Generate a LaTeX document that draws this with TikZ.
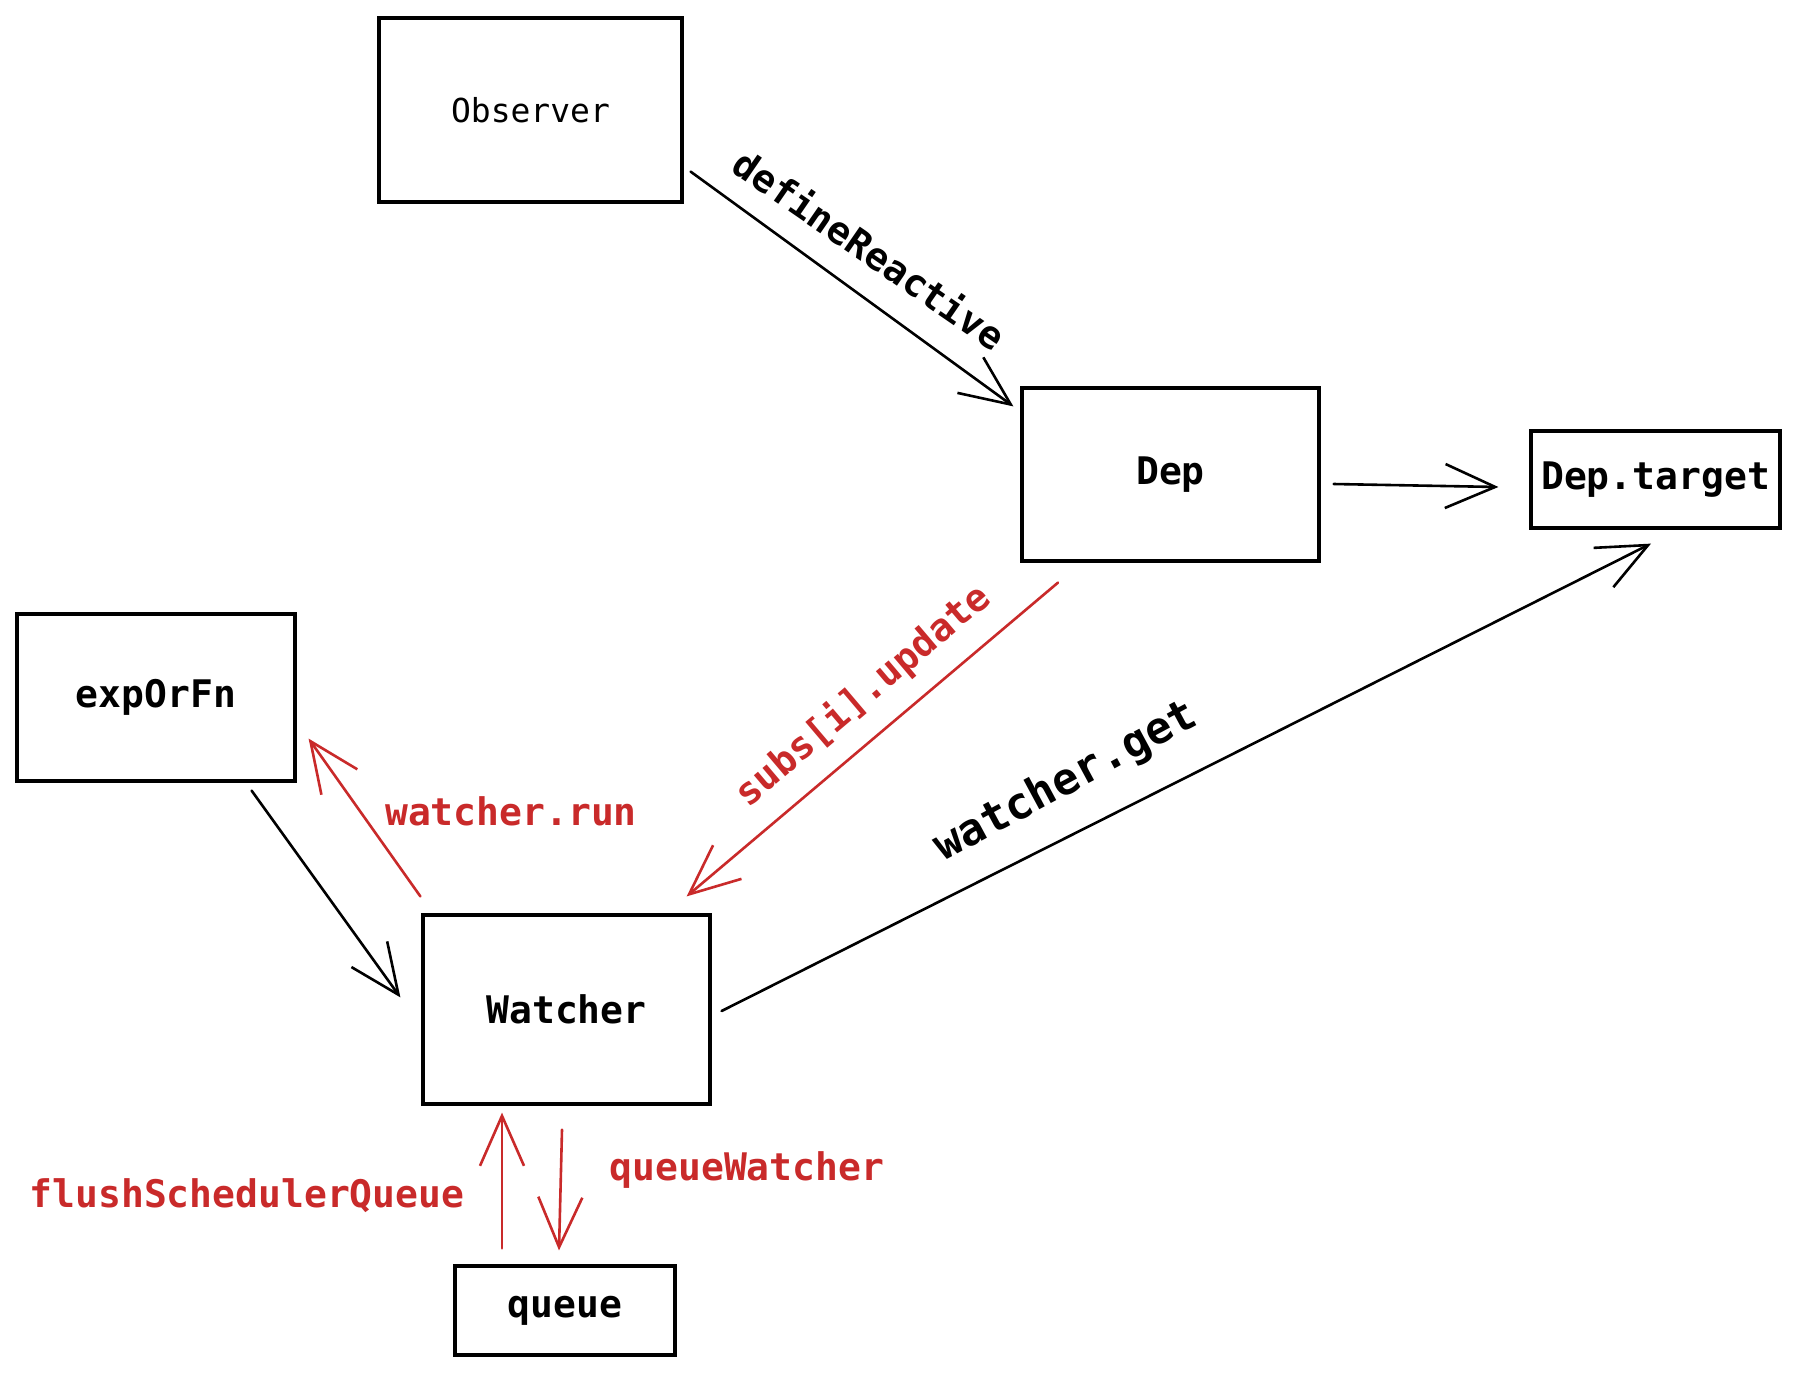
\documentclass[tikz,border=0pt]{standalone}
\usepackage{fontspec}
\newfontfamily\monof{DejaVu Sans Mono}
\usetikzlibrary{arrows.meta}
\definecolor{sred}{RGB}{201,42,42}
\begin{document}
\begin{tikzpicture}[x=1pt,y=-1pt,
  box/.style={draw=black, line width=3.2pt, inner sep=0pt, font=\monof\bfseries\fontsize{38}{40}\selectfont},
  conn/.style={line width=2.6pt, line cap=round, -{Straight Barb[length=50pt,width=44pt]}},
  redconn/.style={conn, draw=sred},
  lbl/.style={inner sep=0pt, font=\monof\bfseries\fontsize{38}{40}\selectfont},
  redlbl/.style={lbl, text=sred}]
\useasboundingbox[fill=white] (0,0) rectangle (1801,1376);

% boxes
\node[box, minimum width=303pt, minimum height=184pt, font=\monof\mdseries\fontsize{33}{35}\selectfont] (obs) at (530.5,110) {Observer};
\node[box, minimum width=297pt, minimum height=173pt] (dep) at (1170.5,474.5) {\raisebox{-3pt}{Dep}};
\node[box, minimum width=249pt, minimum height=97pt] (tgt) at (1655.5,479.5) {\raisebox{-4pt}{Dep.target}};
\node[box, minimum width=278pt, minimum height=167pt] (exp) at (156,697.5) {\raisebox{-5pt}{expOrFn}};
\node[box, minimum width=287pt, minimum height=189pt] (wat) at (566.5,1009.5) {Watcher};
\node[box, minimum width=220pt, minimum height=89pt] (que) at (565,1310.5) {\raisebox{-5pt}{queue}};

% connectors
\draw[conn] ([xshift=7pt,yshift=32pt]obs.south east) -- ([xshift=-7pt,yshift=-20pt]dep.north west);
\draw[conn] ([xshift=13pt,yshift=-9.5pt]dep.east) -- ([xshift=-31pt,yshift=-7.5pt]tgt.west);
\draw[redconn] ([xshift=-112.5pt,yshift=-20pt]dep.south) -- ([xshift=-25pt,yshift=17pt]wat.north east);
\draw[conn] ([xshift=10pt,yshift=-1.5pt]wat.east) -- ([xshift=-4.5pt,yshift=-14pt]tgt.south);
\draw[conn] ([xshift=-45pt,yshift=-8pt]exp.south east) -- ([xshift=-21pt,yshift=-84pt]wat.north west);
\draw[redconn] ([xshift=-1pt,yshift=17pt]wat.north west) -- ([xshift=12pt,yshift=44pt]exp.south east);
\draw[redconn] ([xshift=-63pt,yshift=16pt]que.north) -- ([xshift=-64.5pt,yshift=-7pt]wat.south);
\draw[redconn] ([xshift=-4.5pt,yshift=-24pt]wat.south) -- ([xshift=-6pt,yshift=14pt]que.north);

% labels
\node[lbl, rotate=-34.6] (l1) at (870,249) {defineReactive};
\node[redlbl, rotate=40.3] (l2) at (863,696) {subs[i].update};
\node[lbl, rotate=28.3, font=\monof\bfseries\fontsize{44}{46}\selectfont] (l3) at (1066,782) {watcher.get};
\node[redlbl] (l4) at (511,811) {watcher.run};
\node[redlbl] (l5) at (247,1196) {flushSchedulerQueue};
\node[redlbl] (l6) at (747,1170) {queueWatcher};
\end{tikzpicture}
\end{document}
